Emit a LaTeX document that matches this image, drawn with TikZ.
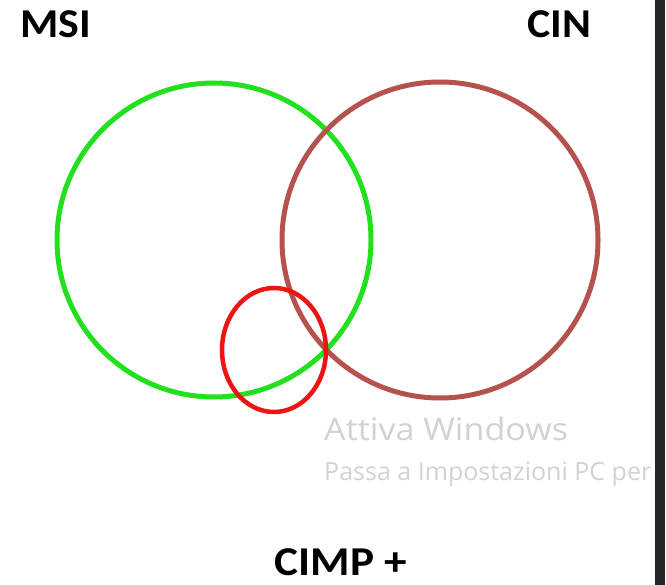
\documentclass[tikz,border=0pt]{standalone}
\usepackage{fontspec}
\setmainfont{Carlito}
\newfontfamily\wmfont{Open Sans}
\definecolor{msigreen}{HTML}{22E01E}
\definecolor{cinbrown}{HTML}{B5524E}
\definecolor{cimpred}{HTML}{EE1414}
\definecolor{wmgray}{HTML}{D2D2D2}
\definecolor{barcol}{HTML}{262626}
\begin{document}
\begin{tikzpicture}[x=1pt,y=-1pt,
  setlabel/.style={font=\fontsize{41}{44}\selectfont\bfseries, text=black, inner sep=0pt, anchor=base, xscale=1.07},
  ring/.style={line width=5pt},
  wmark/.style={text=wmgray, inner sep=0pt, anchor=base west}]
  \useasboundingbox[fill=white] (0,0) rectangle (666,585);
  % set outlines
  \draw[ring, msigreen] (214,240) circle[radius=157];
  \draw[ring, cinbrown] (440,240) circle[radius=158];
  \draw[ring, cimpred, line width=4.5pt] (274,350) ellipse[x radius=52, y radius=62];
  % set names
  \node[setlabel] (msi) at (56,38) {MSI};
  \node[setlabel] (cin) at (559,38) {CIN};
  \node[setlabel, xscale=1.03] (cimp) at (341,575) {CIMP +};
  % activation watermark, cut off by the window edge
  \begin{scope}
    \clip (0,0) rectangle (655,585);
    \node[wmark, font=\wmfont\fontsize{31}{33}\selectfont, xscale=1.1] (wm1) at (324,440) {Attiva Windows};
    \node[wmark, font=\wmfont\fontsize{25}{27}\selectfont] (wm2) at (324,480) {Passa a Impostazioni PC per};
  \end{scope}
  % window border on the right
  \fill[barcol] (655,0) rectangle (665,585);
\end{tikzpicture}
\end{document}
